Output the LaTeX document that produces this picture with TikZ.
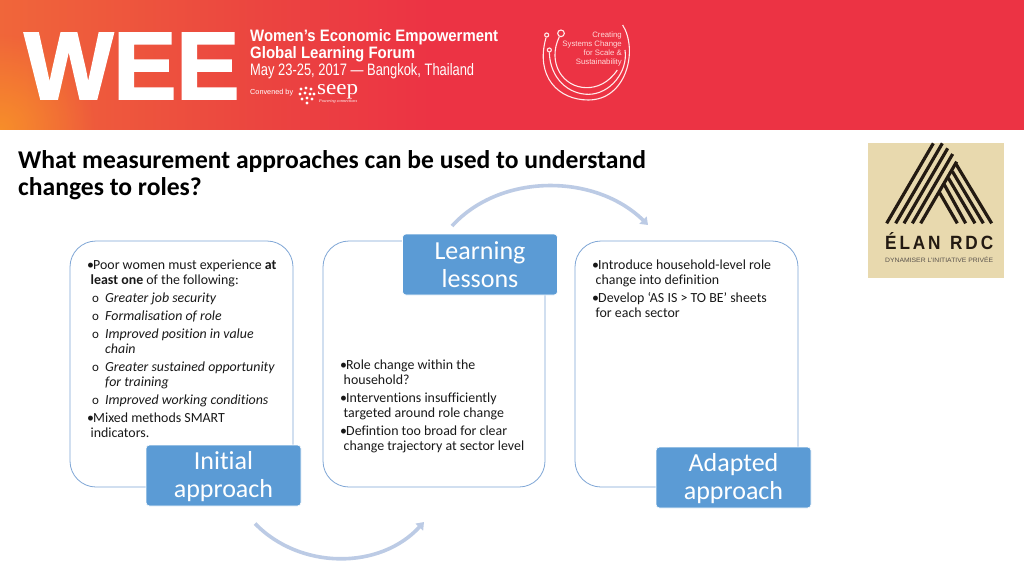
\documentclass[tikz,border=0pt]{standalone}
\usepackage{fontspec}
\setmainfont[Ligatures=NoCommon]{Carlito}
\newfontfamily\heavyfont{Liberation Sans}
\newfontfamily\weefont[BoldFeatures={FakeBold=2}]{Liberation Sans}
\newfontfamily\ringfont{Liberation Sans}
\newfontfamily\serifseep{Liberation Serif}
\usetikzlibrary{arrows.meta,shadings,fadings}
\definecolor{cardline}{HTML}{7FA6D6}
\definecolor{tagfill}{HTML}{5B9BD5}
\definecolor{arrowc}{HTML}{BCCBE5}
\definecolor{bannerred}{HTML}{EC3344}
\definecolor{bannera}{HTML}{F0663A}
\definecolor{bannerb}{HTML}{EB4440}
\definecolor{bannerorange}{HTML}{F78E2A}
\definecolor{logobg}{HTML}{E8D9AE}
\definecolor{logoink}{HTML}{231A12}
\pgfdeclarehorizontalshading{bannershade}{100bp}{color(0bp)=(bannera);color(25bp)=(bannera);color(38bp)=(bannerb);color(46bp)=(bannerred);color(100bp)=(bannerred)}
\tikzfading[name=cornerfade,inner color=transparent!0,outer color=transparent!100]
\newcommand{\bul}{\makebox[6pt][l]{•}}
\newcommand{\sbul}{\hspace*{5pt}\makebox[13pt][l]{\fontsize{13}{13}\selectfont o}\itshape}
\newcommand{\cont}{\hspace*{3.5pt}}
\newcommand{\scont}{\hspace*{18pt}\itshape}
\newcommand{\lowerline}{\rule{0pt}{20pt}}
\tikzset{
  card/.style={draw=cardline,line width=0.8pt,rounded corners=26pt,fill=white},
  tagbox/.style={fill=tagfill,draw=white,line width=0.6pt,rounded corners=3.5pt,minimum width=155pt,minimum height=61pt,inner sep=0pt,align=center,text=white,font=\fontsize{26}{28}\selectfont},
  body/.style={anchor=north west,inner sep=0pt,align=left,font=\fontsize{13.9}{15}\selectfont,text=black!90},
  cycle/.style={draw=arrowc,line width=3.6pt,-{Triangle[width=10pt,length=7pt]}},
  wt/.style={text=white,inner sep=0pt},
  ring/.style={draw=white!92!red,line width=1.1pt},
  stripe/.style={draw=logoink,line width=3.2pt}
}
\begin{document}
\begin{tikzpicture}[x=1pt,y=-1pt]
\useasboundingbox (0,0) rectangle (1024,576);
\fill[white] (0,0) rectangle (1024,576);
% banner
\shade[shading=bannershade] (0,0) rectangle (1024,129);
\begin{scope}
\clip (0,0) rectangle (1024,129);
\fill[bannerorange,path fading=cornerfade] (0,129) circle (95pt);
\end{scope}
\node[wt,anchor=west] (wee) at (24,66) {\resizebox{215pt}{66pt}{\weefont\bfseries WEE}};
\node[wt,anchor=west] (forum1) at (250,37.5) {\resizebox{248pt}{12pt}{\heavyfont\bfseries Women’s Economic Empowerment}};
\node[wt,anchor=west] (forum2) at (250,54.5) {\resizebox{165pt}{12pt}{\heavyfont\bfseries Global Learning Forum}};
\node[wt,anchor=west] (forum3) at (250,71.5) {\resizebox{224pt}{12pt}{\heavyfont May 23-25, 2017 — Bangkok, Thailand}};
\node[wt,anchor=west] (conv) at (250,93) {\resizebox{43pt}{!}{\heavyfont Convened by}};
\node[wt,anchor=west] (seep) at (317,91.5) {\resizebox{41pt}{10pt}{\serifseep seep}};
\node[wt,anchor=west] (seeptag) at (319,101.5) {\resizebox{38pt}{!}{\serifseep\itshape Powering connections}};
\foreach \a/\b in {301/89,306/88,311/89,300/94,305/93,310/94,314/94,302/99,307/98,312/99,307/103}
  \fill[white] (\a,\b) circle (1.7pt);
% ring logo
\begin{scope}[shift={(530,15)},x=0.3333pt,y=-0.3333pt]
\draw[ring] (278,30) .. controls (325,105) and (290,255) .. (175,255) .. controls (85,255) and (15,185) .. (48,68);
\draw[ring] (285,105) .. controls (295,170) and (240,238) .. (175,238) .. controls (115,238) and (60,190) .. (58,112);
\draw[ring] (262,165) .. controls (235,205) and (200,218) .. (170,218) .. controls (100,218) and (50,145) .. (88,65);
\draw[ring] (50,60) circle (6);
\draw[ring] (58,105) circle (6);
\draw[ring] (93,55) circle (10);
\end{scope}
\node[anchor=east,align=right,inner sep=0pt,text=white!85!red,font=\ringfont\fontsize{7.8}{9.3}\selectfont] (ringtxt) at (622,49) {Creating\\Systems Change\\for Scale \&\\Sustainability};
% title
\node[anchor=north west,inner sep=0pt,align=left,font=\bfseries\fontsize{25.6}{27}\selectfont] (title) at (18,150.5) {What measurement approaches can be used to understand\\changes to roles?};
% elan logo
\fill[logobg] (868,143) rectangle (1004,278);
\begin{scope}[shift={(875,140)},x=0.3333pt,y=-0.3333pt]
\draw[stripe] (35,250) -- (175,10);
\draw[stripe] (62,250) -- (202,10);
\draw[stripe] (87,250) -- (218,25);
\draw[stripe] (112,250) -- (233,42);
\draw[stripe] (137,250) -- (245,65);
\draw[stripe] (350,250) -- (243,72);
\draw[stripe] (325,250) -- (232,94);
\draw[stripe] (300,250) -- (220,114);
\draw[stripe] (272,250) -- (208,134);
\draw[stripe] (247,250) -- (192,155);
\end{scope}
\node[anchor=west,inner sep=0pt,text=logoink] (elan) at (885,241.5) {\resizebox{108pt}{17pt}{\heavyfont\bfseries É\,L\,A\,N\; R\,D\,C}};
\node[anchor=west,inner sep=0pt,text=logoink!75] (elantag) at (885,260) {\resizebox{108pt}{5.5pt}{\heavyfont DYNAMISER L’INITIATIVE PRIVÉE}};
% cards
\draw[card] (70,241) rectangle (293,487);
\draw[card] (323,241) rectangle (545,487);
\draw[card] (575,241) rectangle (798,487);
\node[tagbox] (initial) at (223.5,475.5) {\lowerline Initial\\approach};
\node[tagbox] (learning) at (480,264.5) {Learning\\lessons};
\node[tagbox] (adapted) at (733.5,477.5) {\lowerline Adapted\\approach};
% card text
\node[body] (t1) at (87,259.5) {\bul Poor women must experience \textbf{at}\\[0pt]\cont\textbf{least one} of the following:\\[3pt]\sbul Greater job security\\[3pt]\sbul Formalisation of role\\[3pt]\sbul Improved position in value\\[0pt]\scont chain\\[3pt]\sbul Greater sustained opportunity\\[0pt]\scont for training\\[3pt]\sbul Improved working conditions\\[3pt]\bul Mixed methods SMART\\[0pt]\cont indicators.};
\node[body] (t2) at (340,359.5) {\bul Role change within the\\[0pt]\cont household?\\[3pt]\bul Interventions insufficiently\\[0pt]\cont targeted around role change\\[3pt]\bul Defintion too broad for clear\\[0pt]\cont change trajectory at sector level};
\node[body] (t3) at (592,259.5) {\bul Introduce household-level role\\[0pt]\cont change into definition\\[3pt]\bul Develop ‘AS IS > TO BE’ sheets\\[0pt]\cont for each sector};
% cycle arrows
\coordinate (c1) at (255,523.5);
\coordinate (c2) at (424,522);
\coordinate (c3) at (452,226);
\coordinate (c4) at (648,225);
\draw[cycle] (c1) .. controls (300,570) and (380,570) .. (c2);
\draw[cycle] (c3) .. controls (500,173) and (595,173) .. (c4);
\end{tikzpicture}
\end{document}
